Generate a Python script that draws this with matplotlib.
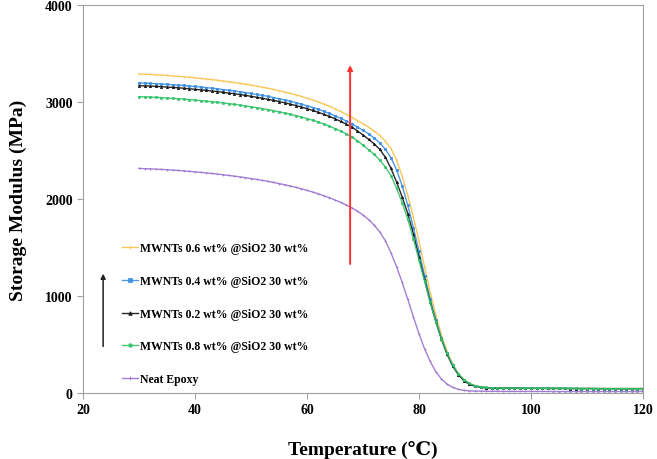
import numpy as np
import matplotlib.pyplot as plt

plt.rcParams['font.family'] = ['Liberation Serif', 'DejaVu Serif', 'DejaVu Sans']
plt.rcParams['font.weight'] = 'bold'

temp = np.arange(30, 121)

mwnt_06 = [3288, 3286, 3284, 3280, 3277, 3274, 3269, 3265, 3260, 3255,
           3250, 3244, 3237, 3231, 3224, 3216, 3209, 3201, 3192, 3184,
           3174, 3164, 3153, 3142, 3130, 3116, 3103, 3089, 3074, 3057,
           3039, 3021, 3001, 2979, 2956, 2930, 2903, 2873, 2841, 2808,
           2776, 2740, 2700, 2655, 2595, 2520, 2400, 2235, 2035, 1810,
           1565, 1300, 1040, 805, 600, 430, 300, 205, 140, 98,
           74, 62, 56, 53, 52, 51, 50, 50, 49, 49,
           49, 48, 48, 48, 48, 47, 47, 47, 47, 46,
           46, 46, 46, 46, 45, 45, 45, 45, 45, 45, 45]
mwnt_04 = [3196, 3194, 3192, 3189, 3186, 3182, 3178, 3174, 3170, 3165,
           3160, 3154, 3148, 3142, 3136, 3128, 3121, 3114, 3106, 3097,
           3088, 3078, 3068, 3058, 3046, 3034, 3021, 3008, 2993, 2978,
           2961, 2943, 2925, 2904, 2882, 2858, 2832, 2804, 2774, 2742,
           2708, 2671, 2628, 2577, 2512, 2425, 2300, 2135, 1935, 1705,
           1460, 1210, 970, 755, 565, 410, 287, 196, 133, 94,
           72, 61, 55, 52, 51, 50, 49, 49, 49, 48,
           48, 48, 48, 47, 47, 47, 47, 46, 46, 46,
           46, 46, 45, 45, 45, 45, 45, 45, 45, 45, 45]
mwnt_02 = [3168, 3166, 3164, 3161, 3158, 3154, 3150, 3146, 3142, 3136,
           3131, 3126, 3120, 3113, 3107, 3100, 3092, 3085, 3077, 3068,
           3059, 3049, 3039, 3028, 3017, 3004, 2992, 2978, 2963, 2948,
           2931, 2913, 2894, 2873, 2851, 2827, 2800, 2772, 2742, 2702,
           2660, 2615, 2568, 2512, 2430, 2315, 2175, 2020, 1850, 1640,
           1400, 1165, 940, 735, 555, 400, 280, 190, 128, 90,
           70, 60, 54, 52, 51, 50, 49, 49, 49, 48,
           48, 48, 48, 47, 47, 47, 47, 46, 46, 46,
           46, 46, 45, 45, 45, 45, 45, 45, 45, 45, 45]
mwnt_08 = [3055, 3053, 3051, 3048, 3045, 3042, 3038, 3034, 3030, 3025,
           3020, 3015, 3009, 3003, 2997, 2990, 2983, 2976, 2968, 2960,
           2951, 2942, 2932, 2922, 2911, 2899, 2887, 2874, 2860, 2845,
           2829, 2812, 2794, 2774, 2750, 2726, 2700, 2672, 2640, 2600,
           2555, 2508, 2460, 2400, 2330, 2240, 2110, 1960, 1790, 1590,
           1370, 1150, 935, 735, 560, 410, 290, 200, 138, 98,
           76, 64, 57, 54, 52, 51, 50, 50, 49, 49,
           49, 48, 48, 48, 48, 47, 47, 47, 47, 46,
           46, 46, 46, 46, 45, 45, 45, 45, 45, 45, 45]
neat = [2315, 2313, 2311, 2308, 2305, 2302, 2298, 2294, 2290, 2285,
        2280, 2275, 2269, 2263, 2257, 2250, 2243, 2236, 2228, 2220,
        2211, 2202, 2192, 2182, 2171, 2159, 2147, 2134, 2120, 2105,
        2089, 2072, 2054, 2034, 2013, 1990, 1965, 1938, 1909, 1875,
        1835, 1788, 1730, 1660, 1570, 1445, 1300, 1140, 965, 785,
        610, 455, 325, 220, 145, 92, 58, 38, 27, 22,
        20, 19, 18, 17, 17, 16, 16, 16, 16, 16,
        16, 16, 16, 16, 15, 15, 15, 15, 15, 15,
        15, 15, 15, 15, 15, 15, 15, 15, 15, 15, 15]

labels = ["MWNTs 0.6 wt% @SiO2 30 wt%", "MWNTs 0.4 wt% @SiO2 30 wt%",
          "MWNTs 0.2 wt% @SiO2 30 wt%", "MWNTs 0.8 wt% @SiO2 30 wt%",
          "Neat Epoxy"]
series = [mwnt_06, mwnt_04, mwnt_02, mwnt_08, neat]
colors = ["#f7c34a", "#3a8ee0", "#111111", "#33c26a", "#9a72d0"]
markers = ["|", "s", "^", "o", "+"]

fig = plt.figure(figsize=(6.57, 4.60), dpi=100)
ax = fig.add_axes([0.1263, 0.1435, 0.8524, 0.8435])

for y, lab, c, m in zip(series, labels, colors, markers):
    ax.plot(temp, y, color=c, marker=m, markersize=1.6, markeredgewidth=0.6,
            linewidth=1.0, alpha=0.9, label=lab)

# red arrow (increasing modulus) and black arrow next to legend
ax.annotate("", xy=(67.7, 3380), xytext=(67.7, 1330),
            arrowprops=dict(arrowstyle="-|>", color="#ff3030", lw=1.4,
                            mutation_scale=7, shrinkA=0, shrinkB=0))
ax.annotate("", xy=(23.6, 1230), xytext=(23.6, 480),
            arrowprops=dict(arrowstyle="-|>", color="#222222", lw=1.1,
                            mutation_scale=7, shrinkA=0, shrinkB=0))

ax.set_xlim(20, 120)
ax.set_ylim(0, 4000)
ax.set_xticks(range(20, 121, 20))
ax.set_yticks(range(0, 4001, 1000))
for s in ax.spines.values():
    s.set_color("#a0a0a0")
ax.tick_params(colors="#a0a0a0", labelcolor="black", labelsize=10, length=4)
for t in ax.get_xticklabels() + ax.get_yticklabels():
    t.set_fontweight("bold")

ax.set_xlabel("Temperature (\u2103)", fontsize=14, fontweight="bold", labelpad=17)
ax.set_ylabel("Storage Modulus (MPa)", fontsize=14, fontweight="bold", labelpad=13)

ax.legend(loc="lower left", bbox_to_anchor=(0.050, -0.007), frameon=False,
          prop={"size": 8.5, "weight": "bold"}, labelspacing=1.75,
          handlelength=1.35, handletextpad=0.2, markerscale=1.6)

fig.savefig("out.png", dpi=100)
